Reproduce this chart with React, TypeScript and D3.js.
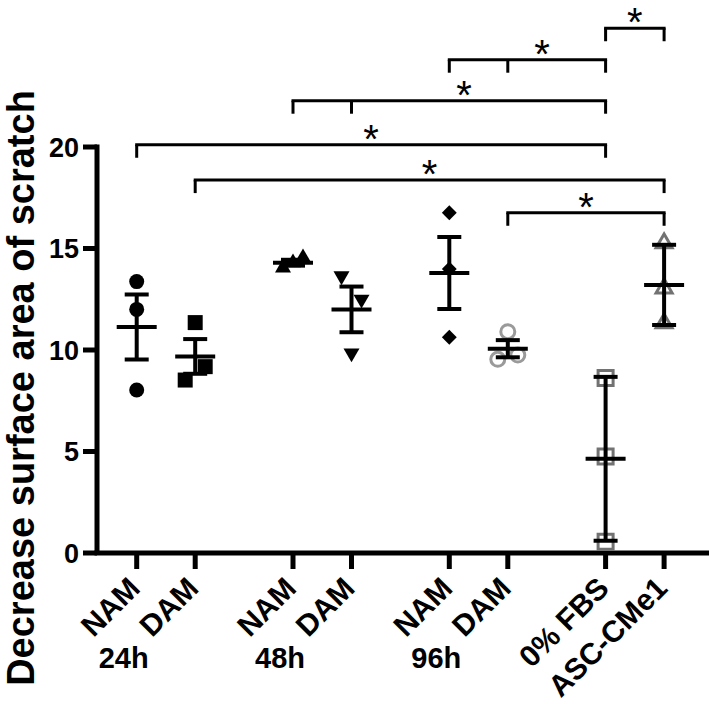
import React from 'react';
import * as d3 from 'd3';

// ---- data ----
const categories = ['NAM', 'DAM', 'NAM', 'DAM', 'NAM', 'DAM', '0% FBS', 'ASC-CMe1'];
const categoryGroup = ['24h', '24h', '48h', '48h', '96h', '96h', 'ctrl', 'ctrl'];
const categoryMember = ['a', 'b', 'a', 'b', 'a', 'b', 'a', 'b'];
const groups = ['24h', '48h', '96h', 'ctrl'];
const groupLabels = ['24h', '48h', '96h'];

const nam24 = [13.37, 12.0, 8.03];
const dam24 = [11.35, 8.52, 9.18];
const nam48 = [14.05, 14.3, 14.55];
const dam48 = [13.65, 12.5, 9.85];
const nam96 = [16.76, 13.99, 10.63];
const dam96 = [9.54, 10.9, 9.75];
const fbs0 = [8.62, 4.75, 0.55];
const ascCMe1 = [15.26, 13.04, 11.32];
const seriesValues = [nam24, dam24, nam48, dam48, nam96, dam96, fbs0, ascCMe1];
const errorType = ['sem', 'sem', 'sem', 'sem', 'sem', 'sem', 'sd', 'sd'];

const markerShape = ['circle', 'square', 'triangle', 'triangleDown', 'diamond', 'circle', 'square', 'triangle'];
const markerFilled = [true, true, true, true, true, false, false, false];

const yTicks = [0, 5, 10, 15, 20];

// significance brackets: left categories, right categories, level (in y units)
const bracketLeft = [[6], [4, 5], [2, 3], [0], [1], [5]];
const bracketRight = [[7], [6], [6], [6], [7], [7]];
const bracketLevel = [25.85, 24.3, 22.28, 20.11, 18.37, 16.76];
const bracketLabel = ['*', '*', '*', '*', '*', '*'];

const FONT = "'Liberation Sans', Arial, Helvetica, sans-serif";

function jitterOffsets(vals: number[], yScale: (v: number) => number, threshold = 24, span = 20) {
  const idx = vals.map((_, i) => i).sort((a, b) => vals[a] - vals[b]);
  const offsets = new Array(vals.length).fill(0);
  let cluster = [idx[0]];
  const flush = () => {
    if (cluster.length > 1) {
      const c = [...cluster].sort((a, b) => a - b);
      const n = c.length;
      c.forEach((k, j) => { offsets[k] = (j - (n - 1) / 2) * span / (n - 1); });
    }
  };
  for (let t = 1; t < idx.length; t++) {
    const prev = idx[t - 1], cur = idx[t];
    if (Math.abs(yScale(vals[cur]) - yScale(vals[prev])) < threshold) cluster.push(cur);
    else { flush(); cluster = [cur]; }
  }
  flush();
  return offsets;
}

function markerPath(shape: string, filled: boolean) {
  const sym = d3.symbol();
  if (shape === 'circle') return sym.type(d3.symbolCircle).size(Math.PI * (filled ? 7.5 : 7) ** 2)();
  if (shape === 'square') return sym.type(d3.symbolSquare).size(15 * 15)();
  if (shape === 'triangle' || shape === 'triangleDown') {
    const w = 16;
    return sym.type(d3.symbolTriangle).size((Math.sqrt(3) / 4) * w * w)();
  }
  if (shape === 'diamond') return sym.type(d3.symbolDiamond2).size(16 * 16 / 2 * 1.1)();
  return sym.type(d3.symbolCircle).size(50)();
}

export default function App() {
  const W = 709, H = 704;
  const y = d3.scaleLinear().domain([0, 20]).range([553, 147]);
  const xGroup = d3.scalePoint<string>().domain(groups).range([136.7, 605.6]);
  const xMember = d3.scalePoint<string>().domain(['a', 'b']).range([0, 58.5]);
  const xCat = (i: number) => (xGroup(categoryGroup[i]) as number) + (xMember(categoryMember[i]) as number);
  const axisX = 97;
  const axisY = y(0);

  const stats = seriesValues.map((vals, i) => {
    const m = d3.mean(vals) as number;
    const sd = d3.deviation(vals) as number;
    const err = errorType[i] === 'sd' ? sd : sd / Math.sqrt(vals.length);
    return { m, err };
  });

  return (
    <svg width={W} height={H} style={{ position: 'absolute', left: 0, top: 0, background: '#fff' }}
      fontFamily={FONT}>
      <rect x={0} y={0} width={W} height={H} fill="#fff" />
      {/* y axis label */}
      <text transform={`translate(34,${388}) rotate(-90)`} textAnchor="middle" fontSize={38} fontWeight="bold" fill="#000">
        Decrease surface area of scratch
      </text>
      {/* y axis */}
      <line x1={axisX} x2={axisX} y1={y(20) - 2.5} y2={axisY} stroke="#000" strokeWidth={5} />
      {yTicks.map(t => (
        <g key={t}>
          <line x1={axisX - 14} x2={axisX} y1={y(t)} y2={y(t)} stroke="#000" strokeWidth={5} />
          <text x={79} y={y(t)} dy="0.36em" textAnchor="end" fontSize={27} fontWeight="bold" fill="#000">{t}</text>
        </g>
      ))}
      {/* x axis */}
      <line x1={axisX - 2.5} x2={W} y1={axisY} y2={axisY} stroke="#000" strokeWidth={5} />
      {categories.map((c, i) => (
        <g key={i}>
          <line x1={xCat(i)} x2={xCat(i)} y1={axisY} y2={axisY + 16} stroke="#000" strokeWidth={5} />
          <text transform={`translate(${xCat(i) + 5},${590}) rotate(-45)`} textAnchor="end" fontSize={30} fontWeight="bold" fill="#000">{c}</text>
        </g>
      ))}
      {groupLabels.map((g, k) => (
        <text key={g} x={(xGroup(groups[k]) as number) - 13} y={668} textAnchor="middle" fontSize={29} fontWeight="bold" fill="#000">{g}</text>
      ))}
      {/* markers */}
      {seriesValues.map((vals, i) => {
        const offs = jitterOffsets(vals, y);
        const filled = markerFilled[i];
        const col = filled ? '#000' : (markerShape[i] === 'circle' ? '#9a9a9a' : '#727272');
        const p = markerPath(markerShape[i], filled);
        const rot = markerShape[i] === 'triangleDown' ? 180 : 0;
        return vals.map((v, j) => (
          <path key={`${i}-${j}`} d={p as string}
            transform={`translate(${xCat(i) + offs[j]},${y(v)}) rotate(${rot})`}
            fill={filled ? col : 'none'} stroke={col} strokeWidth={filled ? 0 : 3} />
        ));
      })}
      {/* mean and error bars */}
      {stats.map((s, i) => {
        const cx = xCat(i);
        return (
          <g key={i} stroke="#000" strokeWidth={4}>
            <line x1={cx} x2={cx} y1={y(s.m + s.err)} y2={y(s.m - s.err)} />
            <line x1={cx - 12} x2={cx + 12} y1={y(s.m + s.err)} y2={y(s.m + s.err)} />
            <line x1={cx - 12} x2={cx + 12} y1={y(s.m - s.err)} y2={y(s.m - s.err)} />
            <line x1={cx - 20} x2={cx + 20} y1={y(s.m)} y2={y(s.m)} />
          </g>
        );
      })}
      {/* significance brackets */}
      {bracketLevel.map((lv, b) => {
        const ly = y(lv);
        const all = [...bracketLeft[b], ...bracketRight[b]];
        const xs = all.map(xCat);
        const x0 = d3.min(xs) as number, x1 = d3.max(xs) as number;
        const lx = d3.mean(bracketLeft[b].map(xCat)) as number;
        const rx = d3.mean(bracketRight[b].map(xCat)) as number;
        const sx = (lx + rx) / 2;
        return (
          <g key={b}>
            <line x1={x0 - 1.5} x2={x1 + 1.5} y1={ly} y2={ly} stroke="#000" strokeWidth={3} />
            {xs.map((xx, k) => (
              <line key={k} x1={xx} x2={xx} y1={ly} y2={ly + 13} stroke="#000" strokeWidth={3} />
            ))}
            <text x={sx} y={ly + 8} textAnchor="middle" fontSize={40} fill="#000">{bracketLabel[b]}</text>
          </g>
        );
      })}
    </svg>
  );
}
